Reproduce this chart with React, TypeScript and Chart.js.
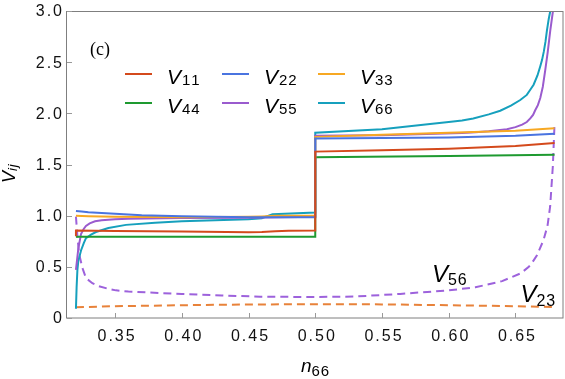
import React, { useEffect, useRef } from 'react';
import { Chart, registerables } from 'chart.js';

Chart.register(...registerables);

const W = 565;
const H = 379;

const xMin = 0.314;
const xMax = 0.686;
const yMin = 0;
const yMax = 3;

const xTicks = [0.35, 0.4, 0.45, 0.5, 0.55, 0.6, 0.65];
const xTickLabels = ['0.35', '0.40', '0.45', '0.50', '0.55', '0.60', '0.65'];
const yTicks = [0, 0.5, 1, 1.5, 2, 2.5, 3];
const yTickLabels = ['0', '0.5', '1.0', '1.5', '2.0', '2.5', '3.0'];

const v11X = [0.3207, 0.3207, 0.35, 0.4, 0.45, 0.46, 0.47, 0.48, 0.5, 0.5, 0.55, 0.6, 0.65, 0.6793];
const v11Y = [0.8, 0.855, 0.85, 0.845, 0.838, 0.84, 0.848, 0.853, 0.855, 1.626, 1.64, 1.655, 1.68, 1.71];

const v22X = [0.3207, 0.325, 0.33, 0.34, 0.35, 0.37, 0.4, 0.45, 0.5, 0.5, 0.55, 0.6, 0.65, 0.6793];
const v22Y = [1.045, 1.04, 1.033, 1.025, 1.018, 1.005, 0.995, 0.985, 0.985, 1.755, 1.76, 1.765, 1.78, 1.8];

const v33X = [0.3207, 0.33, 0.35, 0.4, 0.45, 0.46, 0.47, 0.5, 0.5, 0.55, 0.6, 0.65, 0.6793];
const v33Y = [1.0, 0.995, 0.99, 0.985, 0.99, 0.993, 0.998, 1.0, 1.77, 1.79, 1.81, 1.83, 1.855];

const v44X = [0.3207, 0.4, 0.5, 0.5, 0.6, 0.6793];
const v44Y = [0.795, 0.795, 0.795, 1.57, 1.583, 1.595];

const v55X = [0.3207, 0.3225, 0.3245, 0.3265, 0.3282, 0.331, 0.335, 0.34, 0.35, 0.36, 0.4, 0.45, 0.5, 0.5, 0.55, 0.59, 0.61, 0.62, 0.63, 0.6436, 0.65, 0.655, 0.6585, 0.6611, 0.6632, 0.6648, 0.6668, 0.6686, 0.6705, 0.6723, 0.6742, 0.6761, 0.6781];
const v55Y = [0.47, 0.68, 0.82, 0.87, 0.9, 0.925, 0.945, 0.955, 0.965, 0.97, 0.978, 0.98, 0.99, 1.78, 1.785, 1.8, 1.808, 1.815, 1.825, 1.845, 1.865, 1.89, 1.915, 1.95, 1.985, 2.03, 2.08, 2.15, 2.26, 2.42, 2.6, 2.81, 3.0];

const v66X = [0.3207, 0.3212, 0.3218, 0.3225, 0.3245, 0.3265, 0.3282, 0.332, 0.3357, 0.345, 0.3582, 0.38, 0.4, 0.45, 0.46, 0.468, 0.5, 0.5, 0.55, 0.586, 0.6, 0.61, 0.6184, 0.63, 0.6386, 0.6466, 0.6536, 0.6585, 0.6611, 0.6636, 0.6665, 0.6686, 0.6699, 0.6712, 0.6725, 0.6736, 0.6749, 0.6761];
const v66Y = [0.09, 0.3, 0.47, 0.56, 0.66, 0.73, 0.78, 0.815, 0.84, 0.88, 0.91, 0.93, 0.945, 0.965, 0.975, 1.015, 1.03, 1.81, 1.845, 1.895, 1.915, 1.93, 1.95, 1.99, 2.025, 2.075, 2.13, 2.18, 2.23, 2.28, 2.37, 2.46, 2.52, 2.6, 2.7, 2.81, 2.92, 3.0];

const v56X = [0.3207, 0.3218, 0.323, 0.3255, 0.3282, 0.333, 0.338, 0.345, 0.3507, 0.36, 0.3837, 0.4, 0.43, 0.4587, 0.5, 0.53, 0.5636, 0.6, 0.62, 0.64, 0.654, 0.66, 0.663, 0.666, 0.671, 0.674, 0.676, 0.678, 0.6793];
const v56Y = [0.99, 0.8, 0.63, 0.49, 0.39, 0.34, 0.31, 0.285, 0.27, 0.258, 0.244, 0.235, 0.22, 0.208, 0.205, 0.21, 0.235, 0.27, 0.3, 0.36, 0.437, 0.5, 0.55, 0.61, 0.76, 0.9, 1.09, 1.48, 1.9];

const v23X = [0.3207, 0.35, 0.4, 0.45, 0.5, 0.55, 0.6, 0.65, 0.6793];
const v23Y = [0.105, 0.115, 0.125, 0.132, 0.135, 0.133, 0.125, 0.115, 0.108];

const legendSubs = ['11', '22', '33', '44', '55', '66'];
const legendColors = ['#d44a1c', '#4a74e0', '#f7a823', '#1e9a30', '#9a5bce', '#16a0bd'];
const dashColors = ['#9d62dc', '#e8823a'];
const annotationSubs = ['56', '23'];

const zip = (xs: number[], ys: number[]) => xs.map((x, i) => ({ x, y: ys[i] }));

const SANS = '"Liberation Sans", Arial, sans-serif';

function spacedWidth(ctx: CanvasRenderingContext2D, text: string, sp: number) {
  let w = 0;
  for (const ch of text) w += ctx.measureText(ch).width;
  return w + sp * (text.length - 1);
}

function drawSpaced(
  ctx: CanvasRenderingContext2D,
  text: string,
  x: number,
  y: number,
  sp: number,
  align: 'left' | 'center' | 'right'
) {
  const w = spacedWidth(ctx, text, sp);
  let cx = align === 'left' ? x : align === 'center' ? x - w / 2 : x - w;
  ctx.textAlign = 'left';
  for (const ch of text) {
    ctx.fillText(ch, cx, y);
    cx += ctx.measureText(ch).width + sp;
  }
}

function drawSub(
  ctx: CanvasRenderingContext2D,
  x: number,
  y: number,
  main: string,
  sub: string,
  mainSize: number,
  subSize: number,
  subDy: number,
  subDx = 0,
  subItalic = false
) {
  ctx.textAlign = 'left';
  ctx.font = `italic ${mainSize}px ${SANS}`;
  ctx.fillText(main, x, y);
  const w = ctx.measureText(main).width;
  ctx.font = `${subItalic ? 'italic ' : ''}${subSize}px ${SANS}`;
  drawSpaced(ctx, sub, x + w + subDx, y + subDy, 0.8, 'left');
}

const overlay = {
  id: 'overlay',
  afterDraw(chart: any) {
    const ctx: CanvasRenderingContext2D = chart.ctx;
    const { left, right, top, bottom } = chart.chartArea;
    const xs = chart.scales.x;
    const ys = chart.scales.y;
    ctx.save();
    // frame
    ctx.strokeStyle = '#7f7f7f';
    ctx.lineWidth = 1;
    ctx.strokeRect(left - 0.5, top + 0.5, right - left, bottom - top - 0.5);
    // inward ticks
    ctx.strokeStyle = '#999';
    ctx.beginPath();
    xTicks.forEach((v) => {
      const px = Math.round(xs.getPixelForValue(v)) + 0.5;
      ctx.moveTo(px, bottom);
      ctx.lineTo(px, bottom - 5);
    });
    yTicks.forEach((v) => {
      const py = Math.round(ys.getPixelForValue(v)) + 0.5;
      ctx.moveTo(left, py);
      ctx.lineTo(left + 5, py);
    });
    ctx.stroke();

    ctx.fillStyle = '#111';
    // tick labels
    ctx.font = `16px ${SANS}`;
    ctx.textBaseline = 'middle';
    xTicks.forEach((v, i) => {
      drawSpaced(ctx, xTickLabels[i], xs.getPixelForValue(v) + 1, bottom + 18.5, 2, 'center');
    });
    yTicks.forEach((v, i) => {
      drawSpaced(ctx, yTickLabels[i], left - 5, ys.getPixelForValue(v) + 1, 2, 'right');
    });

    ctx.fillStyle = '#000';
    ctx.textBaseline = 'alphabetic';
    ctx.textAlign = 'left';

    // (c)
    ctx.font = '18px "Liberation Serif", "Times New Roman", serif';
    ctx.fillText('(c)', 90, 55);

    // legend
    const colX = [125, 222, 318];
    const rowY = [74, 103];
    legendSubs.forEach((s, i) => {
      const c = i % 3;
      const r = Math.floor(i / 3);
      ctx.strokeStyle = legendColors[i];
      ctx.lineWidth = 2;
      ctx.beginPath();
      ctx.moveTo(colX[c], rowY[r]);
      ctx.lineTo(colX[c] + 27, rowY[r]);
      ctx.stroke();
      ctx.fillStyle = '#000';
      drawSub(ctx, colX[c] + 42, rowY[r] + 9.5, 'V', s, 21, 15, 1.5, 1);
    });

    // annotations
    drawSub(ctx, 432, 281.5, 'V', annotationSubs[0], 24, 16, 3.5, 0);
    drawSub(ctx, 520.5, 301.5, 'V', annotationSubs[1], 24, 16, 4.5, 0);

    // x title
    drawSub(ctx, 301, 371.5, 'n', '66', 19, 15, 4.5, 0);

    // y title
    ctx.save();
    ctx.translate(15, 183);
    ctx.rotate(-Math.PI / 2);
    drawSub(ctx, 0, 0, 'V', 'ij', 18, 13, 2, 0, true);
    ctx.restore();

    ctx.restore();
  },
};

export default function App() {
  const ref = useRef<HTMLCanvasElement | null>(null);
  useEffect(() => {
    document.body.style.margin = '0';
    if (!ref.current) return;
    const solid = [
      [v11X, v11Y],
      [v22X, v22Y],
      [v33X, v33Y],
      [v44X, v44Y],
      [v55X, v55Y],
      [v66X, v66Y],
    ];
    const datasets: any[] = solid.map(([xs, ys], i) => ({
      label: 'V' + legendSubs[i],
      data: zip(xs as number[], ys as number[]),
      borderColor: legendColors[i],
      borderWidth: 2,
      pointRadius: 0,
      tension: 0,
      fill: false,
    }));
    datasets.push({
      label: 'V56',
      data: zip(v56X, v56Y),
      borderColor: dashColors[0],
      borderWidth: 2,
      borderDash: [8, 5],
      pointRadius: 0,
      tension: 0,
      fill: false,
    });
    datasets.push({
      label: 'V23',
      data: zip(v23X, v23Y),
      borderColor: dashColors[1],
      borderWidth: 2,
      borderDash: [8, 5],
      pointRadius: 0,
      tension: 0,
      fill: false,
    });

    const chart = new Chart(ref.current, {
      type: 'line',
      data: { datasets },
      plugins: [overlay],
      options: {
        animation: false,
        responsive: false,
        devicePixelRatio: 1,
        layout: { padding: { top: 11, right: 1.5, left: 0, bottom: 0 } },
        plugins: {
          legend: { display: false },
          tooltip: { enabled: false },
          title: { display: false },
        },
        scales: {
          x: {
            type: 'linear',
            min: xMin,
            max: xMax,
            afterBuildTicks: (s: any) => {
              s.ticks = xTicks.map((v) => ({ value: v }));
            },
            afterFit: (s: any) => {
              s.height = H - 318;
            },
            ticks: { display: false },
            grid: { display: false, drawTicks: false },
            border: { display: false },
          },
          y: {
            type: 'linear',
            min: yMin,
            max: yMax,
            afterBuildTicks: (s: any) => {
              s.ticks = yTicks.map((v) => ({ value: v }));
            },
            afterFit: (s: any) => {
              s.width = 67;
            },
            ticks: { display: false },
            grid: { display: false, drawTicks: false },
            border: { display: false },
          },
        },
      } as any,
    });
    return () => chart.destroy();
  }, []);
  return (
    <div style={{ position: 'fixed', left: 0, top: 0, width: W, height: H, background: '#fff' }}>
      <canvas ref={ref} width={W} height={H} style={{ width: W, height: H, display: 'block' }} />
    </div>
  );
}
